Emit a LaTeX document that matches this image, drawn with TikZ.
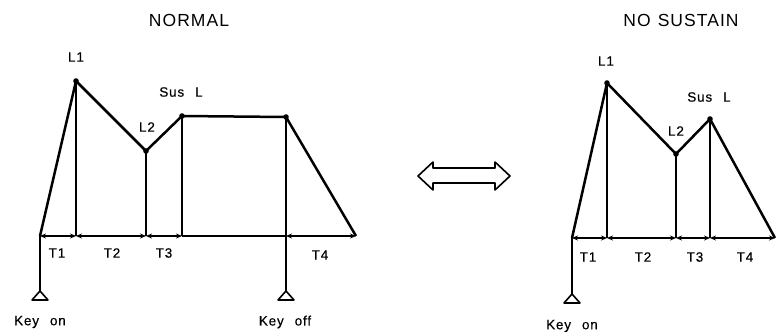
\documentclass[tikz,border=0pt]{standalone}
\usepackage{fontspec}
\setmainfont{Liberation Sans}
\newfontfamily\plotfont[LetterSpace=6,WordSpace=2.4,FakeBold=0.4]{Liberation Sans}
\newfontfamily\headfont[LetterSpace=6,WordSpace=1.2]{Liberation Sans}
\usetikzlibrary{arrows.meta}

\begin{document}
\begin{tikzpicture}[x=1pt,y=-1pt,
  every node/.style={font=\plotfont\fontsize{13.5}{16}\selectfont,inner sep=0pt},
  title/.style={font=\headfont\fontsize{17.5}{20}\selectfont},
  env/.style={line width=2.5pt,line join=round},
  tick/.style={line width=1.6pt},
  base/.style={line width=1.3pt},
  span/.style={base,{Stealth[length=6pt,width=5pt]}-{Stealth[length=6pt,width=5pt]}},
  keyline/.style={line width=1.6pt,line join=round}]
\useasboundingbox (0,0) rectangle (777,332);
% normal envelope
\node[title] (tnormal) at (189,20) {NORMAL};
\coordinate (a0) at (40,236); \coordinate (a1) at (76,81); \coordinate (a2) at (146,151);
\coordinate (a3) at (182,116); \coordinate (a4) at (286,117); \coordinate (a5) at (356,236);
\coordinate (b1) at (76,236); \coordinate (b2) at (146,236); \coordinate (b3) at (182,236); \coordinate (b4) at (286,236);
\coordinate (kon) at (40,291); \coordinate (koff) at (286,291);
\draw[env] (a0) -- (a1) -- (a2) -- (a3) -- (a4) -- (a5);
\foreach \p in {a1,a2,a3,a4}{\fill (\p) circle (2.8pt);}
\foreach \p/\q in {a1/b1,a2/b2,a3/b3}{\draw[tick] (\p) -- (\q);}
\draw[span] (a0) -- (b1); \draw[span] (b1) -- (b2); \draw[span] (b2) -- (b3);
\draw[base] (b3) -- (b4); \draw[span] (b4) -- (a5);
\draw[keyline] (a0) -- (kon); \draw[keyline] (a4) -- (koff);
\draw[keyline] (kon) -- ++(-8,9) -- ++(16,0) -- cycle;
\draw[keyline] (koff) -- ++(-8,9) -- ++(16,0) -- cycle;
\node (la1) at (76,57) {L1}; \node (la2) at (147,127) {L2}; \node (la3) at (181,92) {Sus L};
\node (ta1) at (57,253) {T1}; \node (ta2) at (112,253) {T2}; \node (ta3) at (164,253) {T3}; \node (ta4) at (320,255) {T4};
\node (kona) at (40,322) {Key on}; \node (koffa) at (285,322) {Key off};
% swap arrow
\draw[keyline] (418,176) -- (433,162) -- (433,168) -- (495,168) -- (495,162) -- (510,176)
  -- (495,190) -- (495,183) -- (433,183) -- (433,190) -- cycle;
% no sustain envelope
\node[title] (tnosus) at (681,20) {NO SUSTAIN};
\coordinate (c0) at (572,238); \coordinate (c1) at (607,83); \coordinate (c2) at (676,154);
\coordinate (c3) at (710,119); \coordinate (c4) at (775,238);
\coordinate (d1) at (607,238); \coordinate (d2) at (676,238); \coordinate (d3) at (710,238);
\coordinate (kon2) at (572,294);
\draw[env] (c0) -- (c1) -- (c2) -- (c3) -- (c4);
\foreach \p in {c1,c2,c3}{\fill (\p) circle (2.8pt);}
\foreach \p/\q in {c1/d1,c2/d2,c3/d3}{\draw[tick] (\p) -- (\q);}
\draw[span] (c0) -- (d1); \draw[span] (d1) -- (d2); \draw[span] (d2) -- (d3); \draw[span] (d3) -- (c4);
\draw[keyline] (c0) -- (kon2);
\draw[keyline] (kon2) -- ++(-8,9) -- ++(16,0) -- cycle;
\node (lc1) at (606,61) {L1}; \node (lc2) at (676,131) {L2}; \node (lc3) at (709,97) {Sus L};
\node (tc1) at (588,257) {T1}; \node (tc2) at (643,257) {T2}; \node (tc3) at (695,257) {T3}; \node (tc4) at (745,257) {T4};
\node (konc) at (572,326) {Key on};
\end{tikzpicture}
\end{document}
